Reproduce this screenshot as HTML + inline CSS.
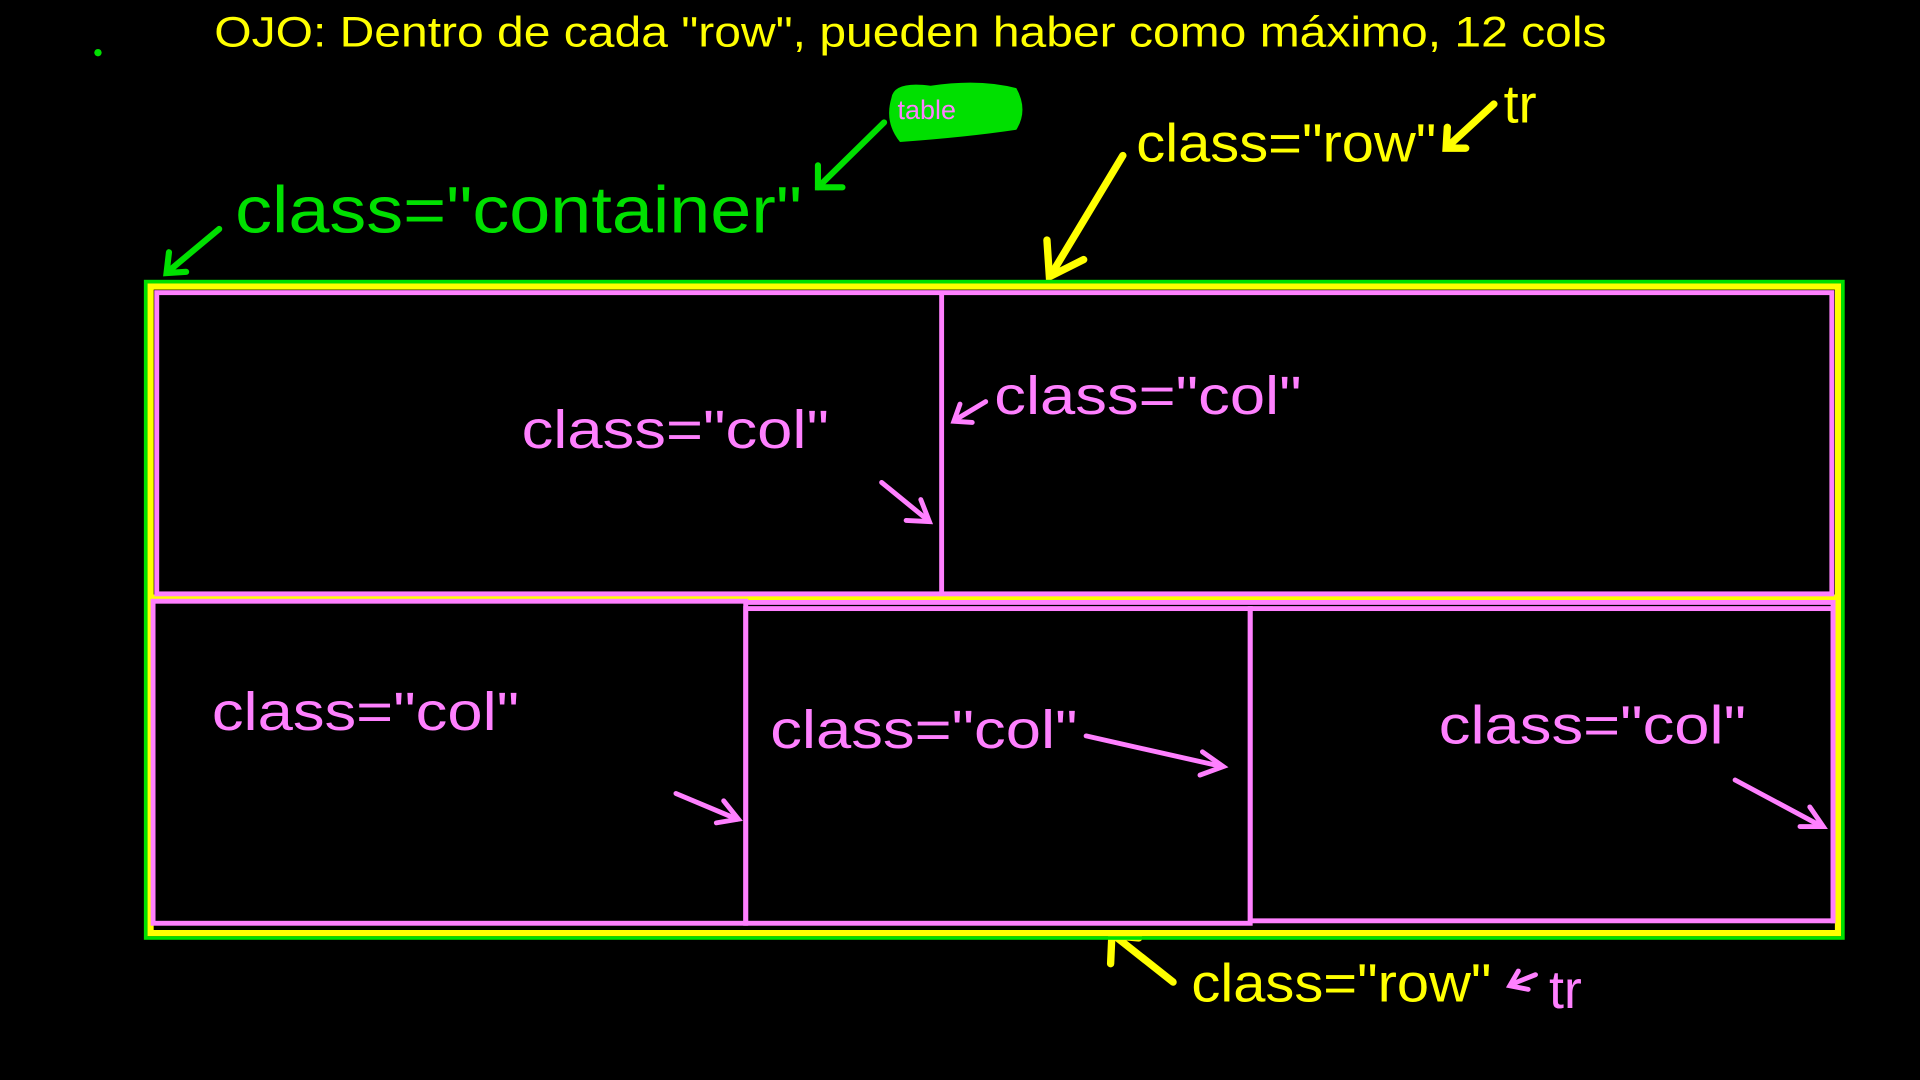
<!DOCTYPE html>
<html><head><meta charset="utf-8"><style>
html,body{margin:0;padding:0;background:#000;width:1920px;height:1080px;overflow:hidden}
svg{display:block}
text{font-family:"Liberation Sans",sans-serif}
</style></head><body>
<svg width="1920" height="1080" viewBox="0 0 1568 882" xmlns="http://www.w3.org/2000/svg">
<rect width="1568" height="882" fill="#000"/>
<circle cx="80" cy="43" r="3" fill="#00e000"/>
<text x="175" y="38" font-size="35" fill="#ffff00" textLength="1137" lengthAdjust="spacingAndGlyphs">OJO: Dentro de cada "row", pueden haber como máximo, 12 cols</text>
<path d="M728 80 Q730 66 760 70 Q800 64 830 72 Q840 90 830 106 Q790 112 735 116 Q722 100 728 80Z" fill="#00e000"/>
<text x="733" y="97" font-size="22" fill="#ff80ff">table</text>
<g stroke="#00e000" stroke-width="5" fill="none" stroke-linecap="round">
<line x1="722" y1="100" x2="668" y2="153"/><polyline points="668,135 668,153 688,153"/>
<line x1="179" y1="187" x2="137" y2="222"/><polyline points="138,206 136,223 152,222"/>
</g>
<text x="192" y="190" font-size="54" fill="#00e000" textLength="463" lengthAdjust="spacingAndGlyphs">class="container"</text>
<g stroke="#ffff00" stroke-width="6" fill="none" stroke-linecap="round">
<line x1="917" y1="127" x2="858" y2="225"/><polyline points="855,196 857,226 885,212"/>
<line x1="1220" y1="85" x2="1182" y2="120"/><polyline points="1182,104 1181,121 1197,121"/>
<line x1="958" y1="802" x2="910" y2="764"/><polyline points="907,787 908,764 930,766"/>
</g>
<text x="928" y="132" font-size="44" fill="#ffff00" textLength="245" lengthAdjust="spacingAndGlyphs">class="row"</text>
<text x="1228" y="100" font-size="44" fill="#ffff00">tr</text>
<text x="973" y="818" font-size="44" fill="#ffff00" textLength="245" lengthAdjust="spacingAndGlyphs">class="row"</text>
<rect x="119" y="230" width="1386" height="536" fill="none" stroke="#00e000" stroke-width="3"/>
<rect x="123" y="234" width="1378" height="528" fill="none" stroke="#ffff00" stroke-width="5"/>
<line x1="123" y1="488" x2="1501" y2="488" stroke="#ffff00" stroke-width="5"/>
<g fill="none" stroke="#ff80ff" stroke-width="4">
<rect x="128" y="239" width="1368" height="246"/>
<line x1="769" y1="239" x2="769" y2="485"/>
<rect x="125" y="491" width="484" height="263"/>
<rect x="609" y="497" width="412" height="257"/>
<rect x="1021" y="497" width="476" height="255"/>
<line x1="609" y1="492" x2="1499" y2="492"/>
<line x1="1497" y1="492" x2="1497" y2="754"/>
</g>
<g font-size="44" fill="#ff80ff">
<text x="426" y="366" textLength="251" lengthAdjust="spacingAndGlyphs">class="col"</text>
<text x="812" y="338" textLength="251" lengthAdjust="spacingAndGlyphs">class="col"</text>
<text x="173" y="596" textLength="251" lengthAdjust="spacingAndGlyphs">class="col"</text>
<text x="629" y="611" textLength="251" lengthAdjust="spacingAndGlyphs">class="col"</text>
<text x="1175" y="607" textLength="251" lengthAdjust="spacingAndGlyphs">class="col"</text>
<text x="1265" y="823">tr</text>
</g>
<g stroke="#ff80ff" stroke-width="4" fill="none" stroke-linecap="round">
<line x1="720" y1="394" x2="758" y2="425"/><polyline points="752,408 759,426 740,425"/>
<line x1="805" y1="328" x2="780" y2="343"/><polyline points="784,330 779,344 794,345"/>
<line x1="552" y1="648" x2="602" y2="669"/><polyline points="591,654 603,669 585,672"/>
<line x1="887" y1="601" x2="998" y2="626"/><polyline points="982,614 999,626 980,633"/>
<line x1="1417" y1="637" x2="1488" y2="675"/><polyline points="1478,659 1489,675 1470,675"/>
<line x1="1254" y1="796" x2="1234" y2="804"/><polyline points="1240,793 1233,805 1248,808"/>
</g>
</svg>
</body></html>
